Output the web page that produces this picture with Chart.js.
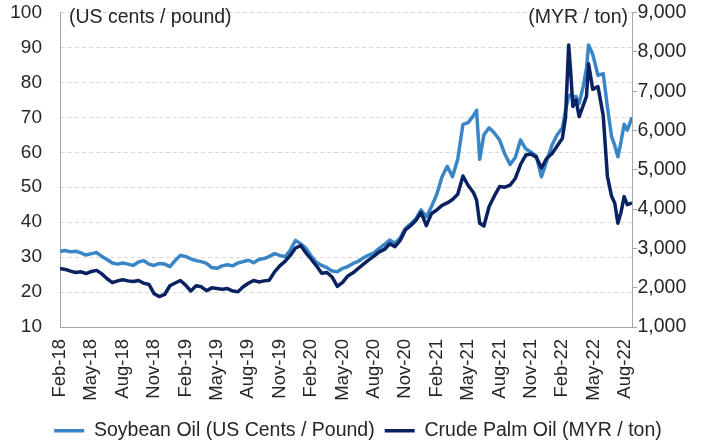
<!DOCTYPE html>
<html><head><meta charset="utf-8">
<script src="https://cdn.jsdelivr.net/npm/chart.js@4"></script>
<style>html,body{margin:0;padding:0;background:#fff;}</style>
</head><body>
<canvas id="c" width="716" height="445"></canvas>
<script>
// x positions: months elapsed since Feb-2018
const months = [
  0,0.5,1,1.5,2,2.5,3,3.5,4,4.5,
  5,5.5,6,6.5,7,7.5,8,8.5,9,9.5,
  10,10.5,11,11.5,12,12.5,13,13.5,14,14.5,
  15,15.5,16,16.5,17,17.5,18,18.5,19,19.5,
  20,20.5,21,21.5,22,22.5,23,23.5,24,24.5,
  25,25.5,26,26.5,27,27.5,28,28.5,29,29.5,
  30,30.5,31,31.5,32,32.5,33,33.5,34,34.5,
  35,35.5,36,36.5,37,37.5,38,38.5,39,39.5,
  39.8,40.1,40.5,41,41.5,42,42.5,43,43.5,44,
  44.5,45,45.5,46,46.5,47,47.5,48,48.3,48.6,
  48.8,49,49.3,49.6,50,50.3,50.5,50.9,51.4,51.9,
  52.3,52.7,53,53.3,53.6,53.9,54.2,54.65
];
// Soybean oil, US cents / pound
const soybean = [
  31.7,31.9,31.5,31.7,31.2,30.6,31.0,31.3,30.2,29.3,
  28.3,28.0,28.3,28.0,27.6,28.6,29.0,28.0,27.6,28.2,
  28.0,27.3,29.0,30.5,30.2,29.5,29.0,28.7,28.2,27.0,
  26.8,27.5,27.8,27.5,28.3,28.7,29.1,28.4,29.3,29.6,
  30.2,31.0,30.5,30.1,32.0,34.8,33.8,32.5,30.3,28.5,
  27.6,27.0,26.0,25.8,26.8,27.3,28.2,28.8,29.8,30.6,
  31.2,32.5,33.6,34.9,34.0,35.5,38.2,39.5,41.0,43.5,
  41.5,44.5,48.0,53.0,56.0,53.0,58.0,68.0,68.5,70.5,
  72.0,58.0,65.0,67.0,65.5,63.5,59.5,56.5,58.5,63.5,
  61.0,60.0,59.0,53.0,57.5,62.0,65.0,67.0,72.0,76.0,
  76.5,75.9,76.0,74.0,79.0,84.0,90.7,88.0,82.0,82.5,
  73.0,64.5,62.0,58.7,63.0,68.0,66.3,70.0
];
// Crude palm oil, MYR / ton
const palmOil = [
  2490,2465,2422,2387,2404,2360,2413,2440,2351,2227,
  2129,2173,2200,2173,2156,2182,2111,2084,1844,1773,
  1827,2049,2120,2182,2067,1916,2049,2022,1924,1996,
  1978,1960,1978,1916,1898,2022,2111,2182,2147,2173,
  2191,2404,2556,2671,2822,3009,3071,2884,2724,2556,
  2369,2387,2271,2031,2138,2298,2378,2493,2600,2707,
  2804,2911,2973,3116,3044,3204,3471,3578,3711,3916,
  3578,3889,3978,4093,4156,4245,4378,4840,4600,4422,
  4227,3640,3569,4067,4333,4573,4556,4609,4778,5133,
  5373,5400,5320,5045,5293,5409,5605,5800,6333,8174,
  7454,6609,6778,6351,6645,6867,7694,7045,7116,6378,
  4831,4325,4156,3640,3916,4316,4111,4156
];
const xTickMonths = [0,3,6,9,12,15,18,21,24,27,30,33,36,39,42,45,48,51,54];
const xTickLabels = ['Feb-18','May-18','Aug-18','Nov-18','Feb-19','May-19','Aug-19','Nov-19','Feb-20','May-20','Aug-20','Nov-20','Feb-21','May-21','Aug-21','Nov-21','Feb-22','May-22','Aug-22'];
const leftAxisTitle = '(US cents / pound)';
const rightAxisTitle = '(MYR / ton)';
const seriesNames = ['Soybean Oil (US Cents / Pound)', 'Crude Palm Oil (MYR / ton)'];

const FONT = 'Liberation Sans, Arial, sans-serif';
const TXT = '#262626';
const SOY_COLOR = '#3986C6';
const PALM_COLOR = '#0B2262';

const titlesPlugin = {
  id: 'axisTitles',
  afterDraw(chart) {
    const {ctx, chartArea} = chart;
    ctx.save();
    ctx.font = '19.5px ' + FONT;
    ctx.fillStyle = TXT;
    ctx.textBaseline = 'middle';
    ctx.textAlign = 'left';
    ctx.fillText(leftAxisTitle, chartArea.left + 9, chartArea.top + 5.5);
    ctx.textAlign = 'right';
    ctx.fillText(rightAxisTitle, chartArea.right - 4, chartArea.top + 5.5);
    ctx.restore();
  }
};

new Chart(document.getElementById('c'), {
  type: 'line',
  data: {
    datasets: [
      { label: seriesNames[0], data: months.map((m, i) => ({x: m, y: soybean[i]})),
        yAxisID: 'y', borderColor: SOY_COLOR, backgroundColor: SOY_COLOR, borderWidth: 3.5,
        pointRadius: 0, tension: 0, order: 1, pointStyle: 'line', borderJoinStyle: 'round' },
      { label: seriesNames[1], data: months.map((m, i) => ({x: m, y: palmOil[i]})),
        yAxisID: 'y1', borderColor: PALM_COLOR, backgroundColor: PALM_COLOR, borderWidth: 3.5,
        pointRadius: 0, tension: 0, order: 0, pointStyle: 'line', borderJoinStyle: 'round' }
    ]
  },
  options: {
    responsive: false,
    animation: false,
    devicePixelRatio: 1,
    layout: { padding: { top: 12.5, left: 0, right: 0, bottom: -5.5 } },
    plugins: {
      legend: {
        position: 'bottom',
        labels: {
          usePointStyle: true, pointStyleWidth: 30, padding: 10,
          font: { family: FONT, size: 19.5 }, color: TXT,
          sort: (a, b) => a.datasetIndex - b.datasetIndex
        }
      },
      tooltip: { enabled: false }
    },
    scales: {
      x: {
        type: 'linear', min: 0, max: 54.65,
        afterBuildTicks: s => { s.ticks = xTickMonths.map(v => ({value: v})); },
        afterFit: s => { s.height = 84; },
        ticks: {
          autoSkip: false, minRotation: 90, maxRotation: 90, padding: 12,
          font: { family: FONT, size: 18.5 }, color: TXT,
          callback: v => xTickLabels[Math.round(v / 3)]
        },
        grid: { display: false, drawTicks: false },
        border: { display: true, color: '#a6a6a6', width: 1 }
      },
      y: {
        position: 'left', min: 10, max: 100,
        afterFit: s => { s.width = 60; },
        ticks: { stepSize: 10, padding: 0, font: { family: FONT, size: 19 }, color: TXT },
        grid: { color: '#d9d9d9', lineWidth: 1, drawTicks: true, tickLength: 18, tickColor: 'rgba(0,0,0,0)' },
        border: { display: true, color: '#a6a6a6', width: 1, dash: [4, 3] }
      },
      y1: {
        position: 'right', min: 1000, max: 9000,
        afterFit: s => { s.width = 84; },
        ticks: { stepSize: 1000, padding: 0.5, font: { family: FONT, size: 19.5 }, color: TXT,
          callback: v => v.toLocaleString('en-US') },
        grid: { display: true, drawOnChartArea: false, drawTicks: true, tickLength: 5, color: '#a6a6a6' },
        border: { display: true, color: '#a6a6a6', width: 1 }
      }
    }
  },
  plugins: [titlesPlugin]
});
</script>
</body></html>
